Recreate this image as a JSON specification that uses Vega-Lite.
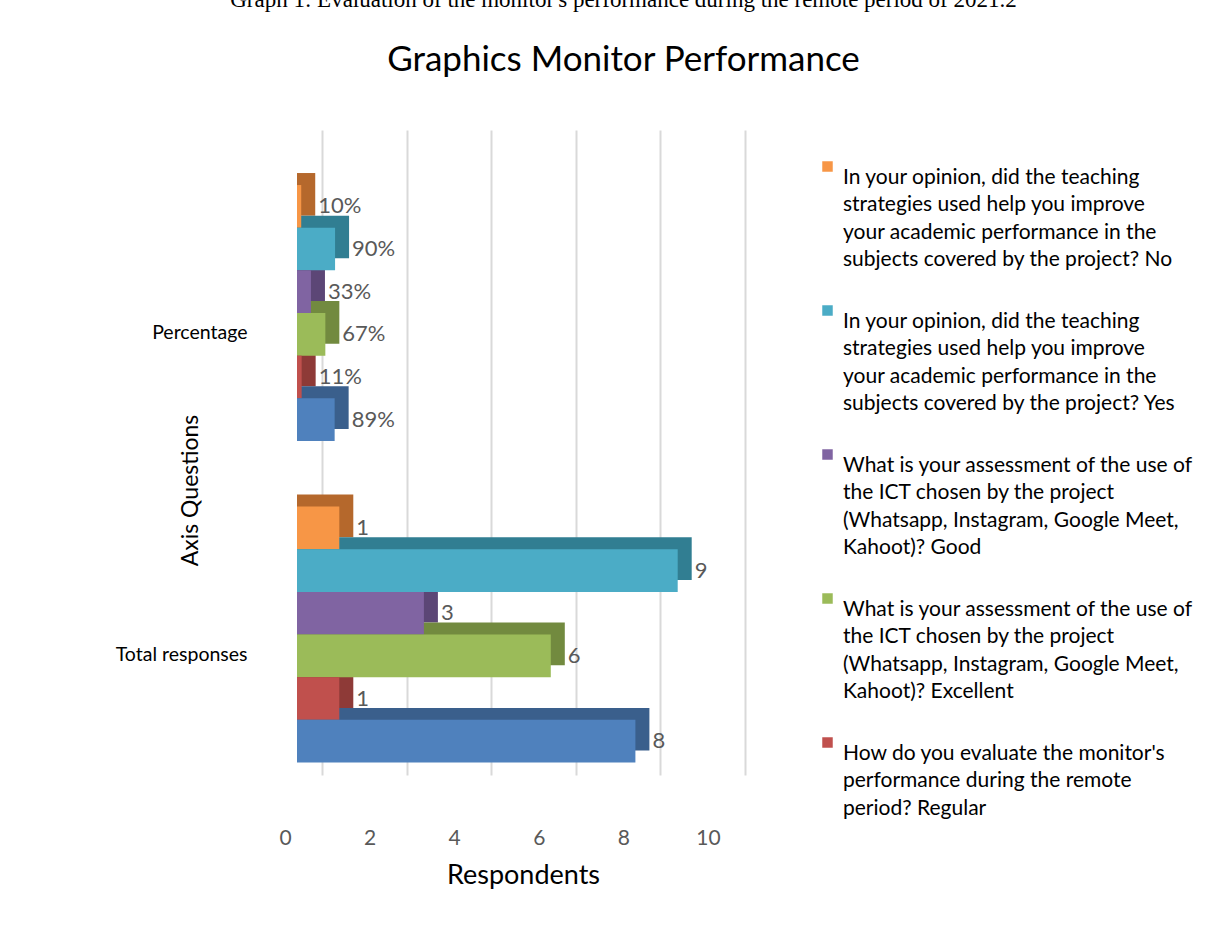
{
  "$schema": "https://vega.github.io/schema/vega-lite/v6.json",
  "autosize": {"type": "none"},
  "width": 423,
  "height": 645,
  "padding": {"left": 297, "top": 130, "right": 488, "bottom": 162},
  "background": "white",
  "title": {
    "text": "Graph 1: Evaluation of the monitor's performance during the remote period of 2021.2",
    "subtitle": "Graphics Monitor Performance",
    "anchor": "middle",
    "frame": "group",
    "dx": 115,
    "offset": 52,
    "font": "Liberation Serif",
    "fontSize": 23,
    "fontWeight": "normal",
    "color": "#000000",
    "subtitleFont": "Lato",
    "subtitleFontSize": 35,
    "subtitleColor": "#000000",
    "subtitlePadding": 31
  },
  "data": {
    "values": [
      {"category": "Percentage", "series": "In your opinion, did the teaching strategies used help you improve your academic performance in the subjects covered by the project? No", "value": 0.10, "label": "10%"},
      {"category": "Percentage", "series": "In your opinion, did the teaching strategies used help you improve your academic performance in the subjects covered by the project? Yes", "value": 0.90, "label": "90%"},
      {"category": "Percentage", "series": "What is your assessment of the use of the ICT chosen by the project (Whatsapp, Instagram, Google Meet, Kahoot)? Good", "value": 0.33, "label": "33%"},
      {"category": "Percentage", "series": "What is your assessment of the use of the ICT chosen by the project (Whatsapp, Instagram, Google Meet, Kahoot)? Excellent", "value": 0.67, "label": "67%"},
      {"category": "Percentage", "series": "How do you evaluate the monitor's performance during the remote period? Regular", "value": 0.11, "label": "11%"},
      {"category": "Percentage", "series": "How do you evaluate the monitor's performance during the remote period? Good", "value": 0.89, "label": "89%"},
      {"category": "Total responses", "series": "In your opinion, did the teaching strategies used help you improve your academic performance in the subjects covered by the project? No", "value": 1, "label": "1"},
      {"category": "Total responses", "series": "In your opinion, did the teaching strategies used help you improve your academic performance in the subjects covered by the project? Yes", "value": 9, "label": "9"},
      {"category": "Total responses", "series": "What is your assessment of the use of the ICT chosen by the project (Whatsapp, Instagram, Google Meet, Kahoot)? Good", "value": 3, "label": "3"},
      {"category": "Total responses", "series": "What is your assessment of the use of the ICT chosen by the project (Whatsapp, Instagram, Google Meet, Kahoot)? Excellent", "value": 6, "label": "6"},
      {"category": "Total responses", "series": "How do you evaluate the monitor's performance during the remote period? Regular", "value": 1, "label": "1"},
      {"category": "Total responses", "series": "How do you evaluate the monitor's performance during the remote period? Good", "value": 8, "label": "8"}
    ]
  },
  "encoding": {
    "y": {
      "field": "category",
      "type": "nominal",
      "scale": {"domain": ["Percentage", "Total responses"], "paddingInner": 0.204, "paddingOuter": 0.105, "align": 0.815},
      "axis": {
        "title": "Axis Questions",
        "titleFont": "Lato",
        "titleFontSize": 23,
        "titleFontWeight": "normal",
        "titleColor": "#000000",
        "titleX": -107,
        "titleY": 360,
        "titleBaseline": "middle",
        "labelFont": "Lato",
        "labelFontSize": 19.5,
        "labelColor": "#000000",
        "labelPadding": 50,
        "labelOffset": 20,
        "ticks": false,
        "domain": false,
        "grid": false
      }
    },
    "x": {
      "field": "value",
      "type": "quantitative",
      "scale": {"domain": [0, 10], "nice": false},
      "axis": {
        "values": [0, 2, 4, 6, 8, 10],
        "title": "Respondents",
        "titleFont": "Lato",
        "titleFontSize": 27,
        "titleFontWeight": "normal",
        "titleColor": "#000000",
        "titleX": 226,
        "titleY": 100,
        "titleBaseline": "middle",
        "labelFont": "Lato",
        "labelFontSize": 21,
        "labelColor": "#595959",
        "labelPadding": 52,
        "labelBaseline": "top",
        "labelFlush": false,
        "tickOffset": 25,
        "labelOffset": -37,
        "ticks": false,
        "domain": false,
        "grid": true,
        "gridColor": "#D9D9D9",
        "gridWidth": 2
      }
    }
  },
  "layer": [
    {
      "mark": {"type": "bar", "xOffset": 14},
      "encoding": {
        "x2": {"datum": 0},
        "yOffset": {
          "field": "series",
          "type": "nominal",
          "scale": {
            "domain": [
              "In your opinion, did the teaching strategies used help you improve your academic performance in the subjects covered by the project? No",
              "In your opinion, did the teaching strategies used help you improve your academic performance in the subjects covered by the project? Yes",
              "What is your assessment of the use of the ICT chosen by the project (Whatsapp, Instagram, Google Meet, Kahoot)? Good",
              "What is your assessment of the use of the ICT chosen by the project (Whatsapp, Instagram, Google Meet, Kahoot)? Excellent",
              "How do you evaluate the monitor's performance during the remote period? Regular",
              "How do you evaluate the monitor's performance during the remote period? Good"
            ],
            "paddingInner": 0,
            "paddingOuter": 0,
            "range": [-12, 244]
          }
        },
        "color": {
          "field": "series",
          "type": "nominal",
          "scale": {
            "domain": [
              "In your opinion, did the teaching strategies used help you improve your academic performance in the subjects covered by the project? No",
              "In your opinion, did the teaching strategies used help you improve your academic performance in the subjects covered by the project? Yes",
              "What is your assessment of the use of the ICT chosen by the project (Whatsapp, Instagram, Google Meet, Kahoot)? Good",
              "What is your assessment of the use of the ICT chosen by the project (Whatsapp, Instagram, Google Meet, Kahoot)? Excellent",
              "How do you evaluate the monitor's performance during the remote period? Regular",
              "How do you evaluate the monitor's performance during the remote period? Good"
            ],
            "range": ["#B5682C", "#317E92", "#5C4676", "#728A3F", "#8E3A37", "#3A5F8C"]
          },
          "legend": null
        }
      }
    },
    {
      "encoding": {
        "yOffset": {
          "field": "series",
          "type": "nominal",
          "scale": {
            "domain": [
              "In your opinion, did the teaching strategies used help you improve your academic performance in the subjects covered by the project? No",
              "In your opinion, did the teaching strategies used help you improve your academic performance in the subjects covered by the project? Yes",
              "What is your assessment of the use of the ICT chosen by the project (Whatsapp, Instagram, Google Meet, Kahoot)? Good",
              "What is your assessment of the use of the ICT chosen by the project (Whatsapp, Instagram, Google Meet, Kahoot)? Excellent",
              "How do you evaluate the monitor's performance during the remote period? Regular",
              "How do you evaluate the monitor's performance during the remote period? Good"
            ],
            "paddingInner": 0,
            "paddingOuter": 0
          }
        }
      },
      "layer": [
        {
          "mark": {"type": "bar"},
          "encoding": {
            "color": {
              "field": "series",
              "type": "nominal",
              "scale": {
                "domain": [
                  "In your opinion, did the teaching strategies used help you improve your academic performance in the subjects covered by the project? No",
                  "In your opinion, did the teaching strategies used help you improve your academic performance in the subjects covered by the project? Yes",
                  "What is your assessment of the use of the ICT chosen by the project (Whatsapp, Instagram, Google Meet, Kahoot)? Good",
                  "What is your assessment of the use of the ICT chosen by the project (Whatsapp, Instagram, Google Meet, Kahoot)? Excellent",
                  "How do you evaluate the monitor's performance during the remote period? Regular",
                  "How do you evaluate the monitor's performance during the remote period? Good"
                ],
                "range": ["#F79646", "#4BACC6", "#8064A2", "#9BBB59", "#C0504D", "#4F81BD"]
              },
              "legend": {
                "orient": "none",
                "legendX": 520,
                "legendY": 26,
                "title": null,
                "values": [
                  "In your opinion, did the teaching strategies used help you improve your academic performance in the subjects covered by the project? No",
                  "In your opinion, did the teaching strategies used help you improve your academic performance in the subjects covered by the project? Yes",
                  "What is your assessment of the use of the ICT chosen by the project (Whatsapp, Instagram, Google Meet, Kahoot)? Good",
                  "What is your assessment of the use of the ICT chosen by the project (Whatsapp, Instagram, Google Meet, Kahoot)? Excellent",
                  "How do you evaluate the monitor's performance during the remote period? Regular"
                ],
                "symbolType": "square",
                "symbolSize": 110,
                "symbolStrokeWidth": 0,
                "labelFont": "Lato",
                "labelFontSize": 21,
                "labelColor": "#000000",
                "labelLimit": 420,
                "labelOffset": 5,
                "labelBaseline": "top",
                "rowPadding": 30,
                "labelExpr": "indexof(datum.label, 'In your opinion') == 0 ? ['In your opinion, did the teaching', 'strategies used help you improve', 'your academic performance in the', 'subjects covered by the project? ' + (indexof(datum.label, '? No') > 0 ? 'No' : 'Yes')] : indexof(datum.label, 'What is') == 0 ? ['What is your assessment of the use of', 'the ICT chosen by the project', '(Whatsapp, Instagram, Google Meet,', 'Kahoot)? ' + (indexof(datum.label, 'Good') > 0 ? 'Good' : 'Excellent')] : [\"How do you evaluate the monitor's\", 'performance during the remote', 'period? Regular']",
                "encode": {"labels": {"update": {"lineHeight": {"value": 27.5}}}}
              }
            }
          }
        },
        {
          "mark": {"type": "text", "align": "left", "baseline": "middle", "dx": 17, "font": "Lato", "fontSize": 22, "color": "#595959"},
          "encoding": {
            "text": {"field": "label"}
          }
        }
      ]
    }
  ],
  "resolve": {"scale": {"yOffset": "independent", "color": "independent"}},
  "config": {"view": {"stroke": null}}
}
